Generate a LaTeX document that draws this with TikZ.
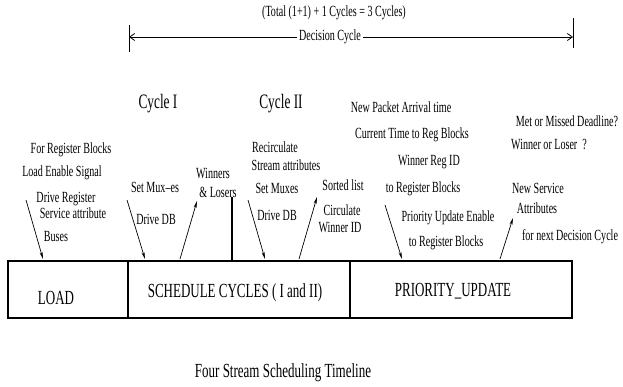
\documentclass[tikz,border=0pt]{standalone}
\usepackage{fontspec}
\setmainfont{Liberation Serif}[FakeStretch=0.65]
\usetikzlibrary{arrows.meta}
\begin{document}
\begin{tikzpicture}[x=1pt, y=-1pt,
    note/.style={inner sep=0pt, font=\fontsize{15.5}{17}\selectfont},
    head/.style={inner sep=0pt, font=\fontsize{20.5}{22}\selectfont},
    phase/.style={inner sep=0pt, font=\fontsize{20}{22}\selectfont},
    sig/.style={-{Stealth[length=7pt, width=3pt]}, line width=0.7pt},
    span/.style={-{Straight Barb[length=5pt, width=7pt]}, line width=0.8pt}]
    \useasboundingbox (0,0) rectangle (623,387);
    % decision cycle
    \node[note] (total) at (334,13) {(Total (1+1) + 1 Cycles = 3 Cycles)};
    \node[note, inner xsep=2pt] (dcyc) at (330,37) {Decision Cycle};
    \coordinate (dcl) at (129,37);
    \coordinate (dcr) at (573,37);
    \draw[line width=0.8pt] (129,25) -- (129,52);
    \draw[line width=0.8pt] (573,18) -- (573,48);
    \draw[span] (dcyc.west) -- (dcl);
    \draw[span] (dcyc.east) -- (dcr);
    % cycle headings
    \node[head] (cyc1) at (158,104) {Cycle I};
    \node[head] (cyc2) at (281,104) {Cycle II};
    % phase box
    \draw[line width=2.5pt] (8,261) rectangle (572,318);
    \draw[line width=1.6pt] (128,261) -- (128,318);
    \draw[line width=1.6pt] (350,261) -- (350,318);
    \node[phase] (load) at (56,298) {LOAD};
    \node[phase] (sched) at (235,293) {SCHEDULE CYCLES ( I and II)};
    \node[phase] (prio) at (453,291) {PRIORITY\_UPDATE};
    % caption
    \node[phase] (caption) at (283,373) {Four Stream Scheduling Timeline};
    % load
    \node[note] (forreg) at (71,150) {For Register Blocks};
    \node[note] (lden) at (62,173) {Load Enable Signal};
    \node[note] (drreg) at (66,199) {Drive Register};
    \node[note] (svatt) at (73,213) {Service attribute};
    \node[note] (buses) at (56,237) {Buses};
    % cycle I
    \node[note] (setmx1) at (155,187) {Set Mux--es};
    \node[note] (drdb1) at (156,219) {Drive DB};
    \node[note] (winl1) at (213,173) {Winners};
    \node[note] (winl2) at (218,192) {\& Losers};
    % cycle II
    \node[note] (recirc) at (275,147) {Recirculate};
    \node[note] (stratt) at (286,165) {Stream attributes};
    \node[note] (setmx2) at (277,188) {Set Muxes};
    \node[note] (drdb2) at (277,215) {Drive DB};
    \node[note] (sorted) at (343,185) {Sorted list};
    \node[note] (circ) at (342,210) {Circulate};
    \node[note] (winid) at (340,227) {Winner ID};
    % priority update
    \node[note] (newpkt) at (401,107) {New Packet Arrival time};
    \node[note] (curtm) at (412,135) {Current Time to Reg Blocks};
    \node[note] (wreg) at (429,162) {Winner Reg ID};
    \node[note] (toreg1) at (423,189) {to Register Blocks};
    \node[note] (puen) at (448,218) {Priority Update Enable};
    \node[note] (toreg2) at (446,243) {to Register Blocks};
    \node[note] (metmiss) at (567,121) {Met or Missed Deadline?};
    \node[note] (winlos) at (549,144) {Winner or Loser\ \ ?};
    \node[note] (newsv) at (538,188) {New Service};
    \node[note] (attrs) at (537,208) {Attributes};
    \node[note] (nextdc) at (570,237) {for next Decision Cycle};
    % signals into the box
    \coordinate (s1) at (26,200);  \coordinate (e1) at (43,259);
    \coordinate (s2) at (127,200); \coordinate (e2) at (145,259);
    \coordinate (s3) at (248,200); \coordinate (e3) at (265,259);
    \coordinate (s4) at (385,205); \coordinate (e4) at (402,259);
    \draw[sig] (s1) -- (e1);
    \draw[sig] (s2) -- (e2);
    \draw[sig] (s3) -- (e3);
    \draw[sig] (s4) -- (e4);
    % signals out of the box
    \coordinate (s5) at (180,259); \coordinate (e5) at (197,201);
    \coordinate (s6) at (299,259); \coordinate (e6) at (317,197);
    \coordinate (s7) at (500,259); \coordinate (e7) at (513,218);
    \draw[sig] (s5) -- (e5);
    \draw[sig] (s6) -- (e6);
    \draw[sig] (s7) -- (e7);
    % cycle split
    \coordinate (c1) at (232,197); \coordinate (c2) at (232,261);
    \draw[line width=1.3pt] (c1) -- (c2);
\end{tikzpicture}
\end{document}
